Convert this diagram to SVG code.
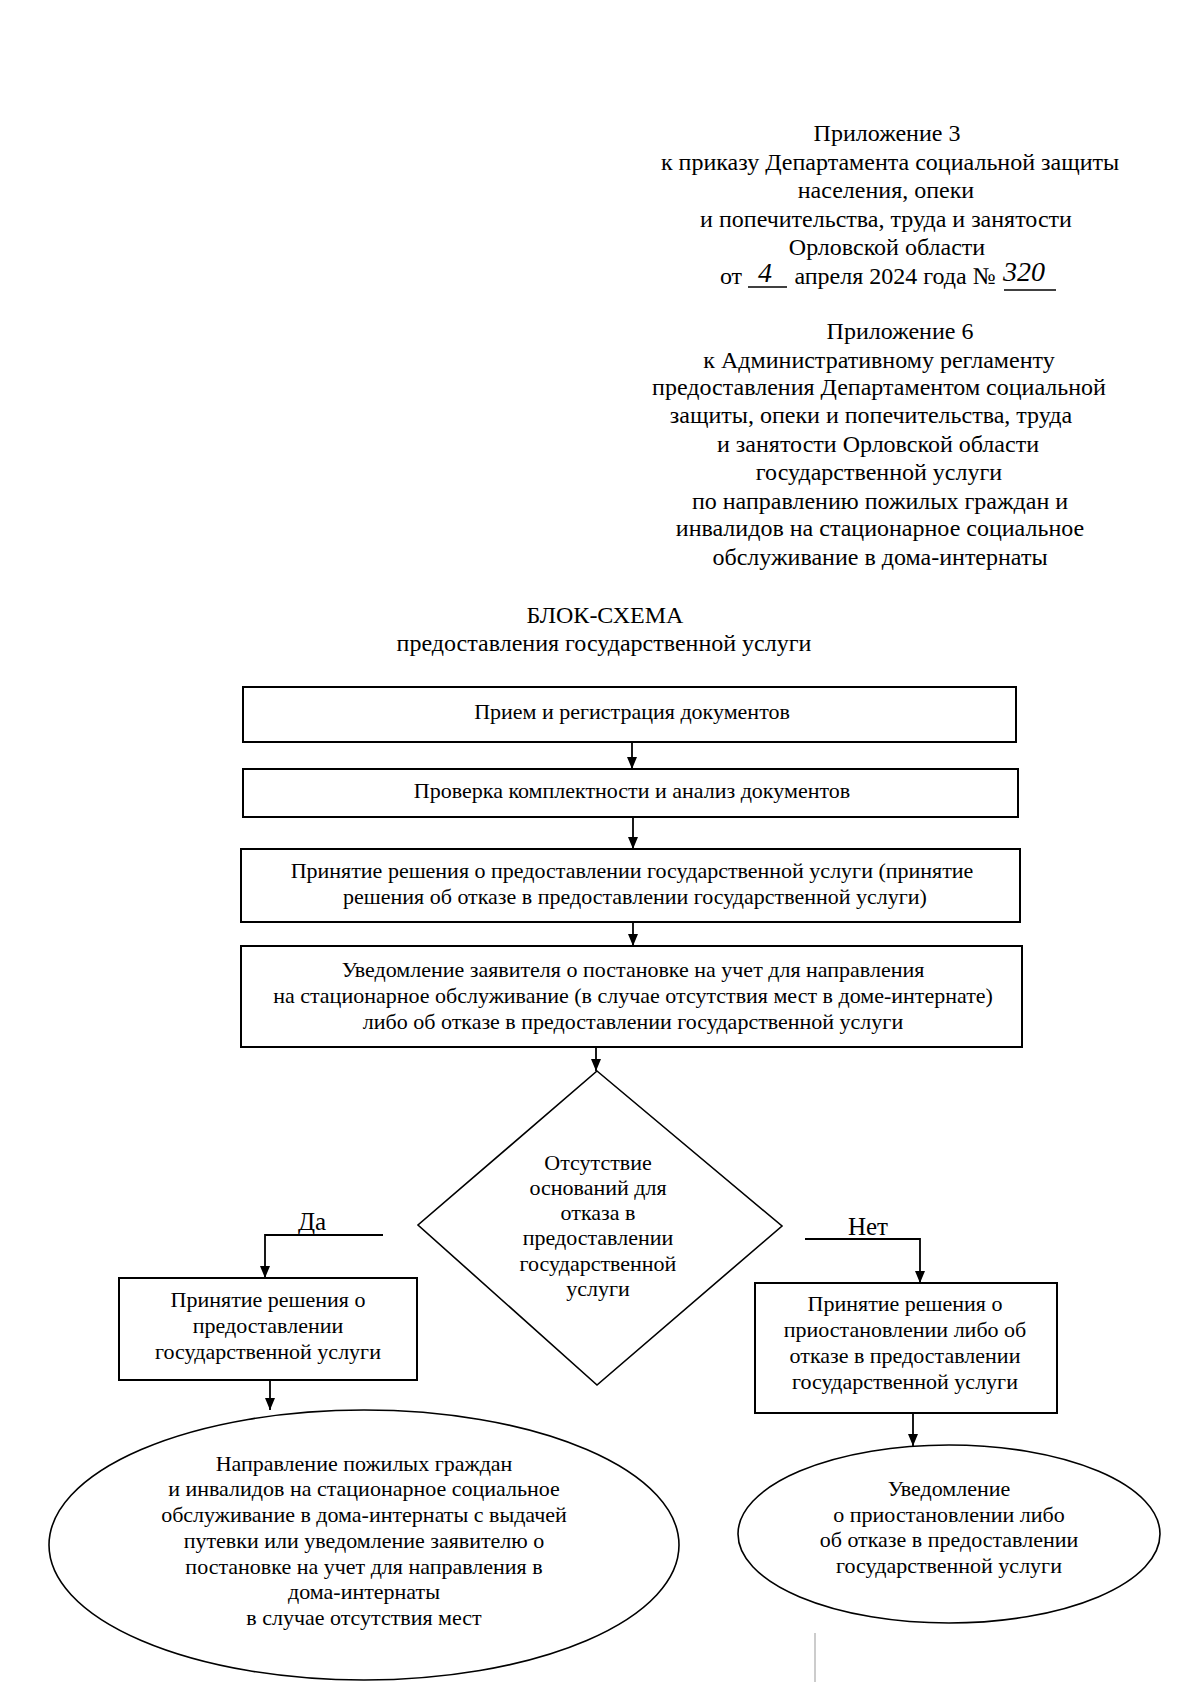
<svg xmlns="http://www.w3.org/2000/svg" width="1200" height="1702" viewBox="0 0 1200 1702">
<style>
.h{font-family:"Liberation Serif","Times New Roman",serif;font-size:24px;fill:#000;text-anchor:middle}
.t{font-family:"Liberation Serif","Times New Roman",serif;font-size:22px;fill:#000;text-anchor:middle}
.hw{font-family:"Liberation Serif","Times New Roman",serif;font-size:28px;font-style:italic;fill:#000}
.box{fill:#fff;stroke:#000;stroke-width:2}
.con{fill:none;stroke:#000;stroke-width:1.8}
</style>
<defs>
<marker id="ah" viewBox="0 0 12 10" refX="12" refY="5" markerWidth="12" markerHeight="10" orient="auto" markerUnits="userSpaceOnUse">
<path d="M0,0 L12,5 L0,10 z" fill="#000"/>
</marker>
</defs>
<rect width="1200" height="1702" fill="#fff"/>
<g id="header1">
<text class="h" x="887" y="141">Приложение 3</text>
<text class="h" x="890" y="170">к приказу Департамента социальной защиты</text>
<text class="h" x="886" y="198">населения, опеки</text>
<text class="h" x="886" y="227">и попечительства, труда и занятости</text>
<text class="h" x="887" y="255">Орловской области</text>
<text class="h" x="731" y="284">от</text>
<text class="hw" x="758" y="282">4</text>
<line x1="748" y1="287" x2="787" y2="287" stroke="#000" stroke-width="1.5"/>
<text class="h" x="895" y="284">апреля 2024 года №</text>
<text class="hw" x="1003" y="281">320</text>
<line x1="1004" y1="290" x2="1056" y2="290" stroke="#000" stroke-width="1.5"/>
</g>
<g id="header2">
<text class="h" x="900" y="339">Приложение 6</text>
<text class="h" x="879" y="368">к Административному регламенту</text>
<text class="h" x="879" y="395">предоставления Департаментом социальной</text>
<text class="h" x="871" y="423">защиты, опеки и попечительства, труда</text>
<text class="h" x="878" y="452">и занятости Орловской области</text>
<text class="h" x="879" y="480">государственной услуги</text>
<text class="h" x="880" y="509">по направлению пожилых граждан и</text>
<text class="h" x="880" y="536">инвалидов на стационарное социальное</text>
<text class="h" x="880" y="565">обслуживание в дома-интернаты</text>
</g>
<g id="title">
<text class="h" x="605" y="623">БЛОК-СХЕМА</text>
<text class="h" x="604" y="651">предоставления государственной услуги</text>
</g>
<g id="connectors">
<path class="con" d="M632,742 V769" marker-end="url(#ah)"/>
<path class="con" d="M633,817 V849" marker-end="url(#ah)"/>
<path class="con" d="M633,922 V946" marker-end="url(#ah)"/>
<path class="con" d="M596,1047 V1071" marker-end="url(#ah)"/>
<path class="con" d="M383,1235 H265 V1278" marker-end="url(#ah)"/>
<path class="con" d="M805,1239 H920 V1283" marker-end="url(#ah)"/>
<path class="con" d="M270,1380 V1410" marker-end="url(#ah)"/>
<path class="con" d="M913,1413 V1446" marker-end="url(#ah)"/>
<text class="t" x="312" y="1230" style="font-size:25px">Да</text>
<text class="t" x="868" y="1235" style="font-size:25px">Нет</text>
</g>
<g id="n1">
<rect class="box" x="243" y="687" width="773" height="55"/>
<text class="t" x="632" y="719">Прием и регистрация документов</text>
</g>
<g id="n2">
<rect class="box" x="243" y="769" width="775" height="48"/>
<text class="t" x="632" y="798">Проверка комплектности и анализ документов</text>
</g>
<g id="n3">
<rect class="box" x="241" y="849" width="779" height="73"/>
<text class="t" x="632" y="878">Принятие решения о предоставлении государственной услуги (принятие</text>
<text class="t" x="635" y="904">решения об отказе в предоставлении государственной услуги)</text>
</g>
<g id="n4">
<rect class="box" x="241" y="946" width="781" height="101"/>
<text class="t" x="633" y="977">Уведомление заявителя о постановке на учет для направления</text>
<text class="t" x="633" y="1003">на стационарное обслуживание (в случае отсутствия мест в доме-интернате)</text>
<text class="t" x="633" y="1029">либо об отказе в предоставлении государственной услуги</text>
</g>
<g id="decision">
<polygon points="597,1071 782,1226 597,1385 418,1225" fill="#fff" stroke="#000" stroke-width="1.6"/>
<text class="t" x="598" y="1170">Отсутствие</text>
<text class="t" x="598" y="1195">оснований для</text>
<text class="t" x="598" y="1220">отказа в</text>
<text class="t" x="598" y="1245">предоставлении</text>
<text class="t" x="598" y="1271">государственной</text>
<text class="t" x="598" y="1296">услуги</text>
</g>
<g id="yes-box">
<rect class="box" x="119" y="1278" width="298" height="102"/>
<text class="t" x="268" y="1307">Принятие решения о</text>
<text class="t" x="268" y="1333">предоставлении</text>
<text class="t" x="268" y="1359">государственной услуги</text>
</g>
<g id="no-box">
<rect class="box" x="755" y="1283" width="302" height="130"/>
<text class="t" x="905" y="1311">Принятие решения о</text>
<text class="t" x="905" y="1337">приостановлении либо об</text>
<text class="t" x="905" y="1363">отказе в предоставлении</text>
<text class="t" x="905" y="1389">государственной услуги</text>
</g>
<g id="yes-end">
<ellipse cx="364" cy="1545" rx="315" ry="135" fill="#fff" stroke="#000" stroke-width="1.6"/>
<text class="t" x="364" y="1471">Направление пожилых граждан</text>
<text class="t" x="364" y="1496">и инвалидов на стационарное социальное</text>
<text class="t" x="364" y="1522">обслуживание в дома-интернаты с выдачей</text>
<text class="t" x="364" y="1548">путевки или уведомление заявителю о</text>
<text class="t" x="364" y="1574">постановке на учет для направления в</text>
<text class="t" x="364" y="1599">дома-интернаты</text>
<text class="t" x="364" y="1625">в случае отсутствия мест</text>
</g>
<g id="no-end">
<ellipse cx="949" cy="1534" rx="211" ry="89" fill="#fff" stroke="#000" stroke-width="1.6"/>
<text class="t" x="949" y="1496">Уведомление</text>
<text class="t" x="949" y="1522">о приостановлении либо</text>
<text class="t" x="949" y="1547">об отказе в предоставлении</text>
<text class="t" x="949" y="1573">государственной услуги</text>
</g>
<line x1="815" y1="1633" x2="815" y2="1682" stroke="#999" stroke-width="1"/>
</svg>
